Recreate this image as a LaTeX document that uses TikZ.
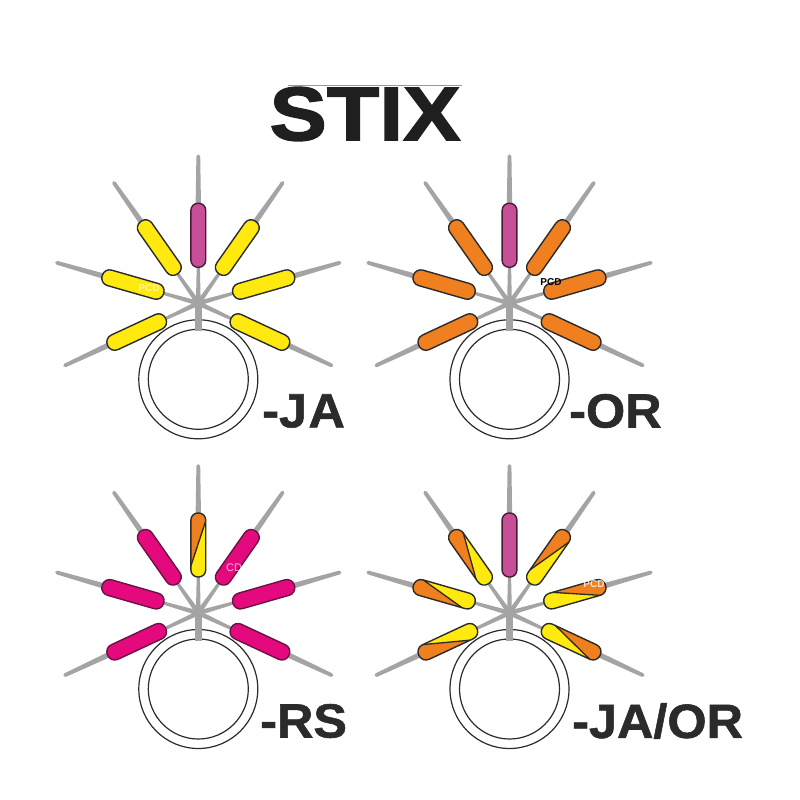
\documentclass[tikz,border=0pt]{standalone}
\usepackage{fontspec}
\setmainfont{Liberation Sans}
\newfontfamily\heavyface[BoldFeatures={FakeBold=1.2,FakeStretch=1.05}]{Liberation Sans}
\newfontfamily\titleface[BoldFeatures={FakeBold=2,FakeStretch=1.13}]{Liberation Sans}
\definecolor{spokegray}{HTML}{A4A4A4}
\definecolor{capyellow}{HTML}{FFE90F}
\definecolor{caporange}{HTML}{EF7F1F}
\definecolor{capplum}{HTML}{C64F98}
\definecolor{caprose}{HTML}{E40A7E}
\definecolor{inkdark}{HTML}{2B2B2B}
\definecolor{roseedge}{HTML}{6A1244}
\definecolor{plumedge}{HTML}{4A1A3A}
\tikzset{
  x=1pt, y=-1pt,
  ringline/.style={draw=inkdark, line width=1.2pt, fill=white},
  stemline/.style={draw=spokegray, line width=7.5pt},
  codelabel/.style={font=\heavyface\bfseries\fontsize{48}{48}\selectfont, text=inkdark, inner sep=0pt, anchor=west},
  pcdlabel/.style={font=\bfseries\fontsize{10}{10}\selectfont, inner sep=0pt},
}
% Half width of a capsule; the upright one is a little narrower
\def\hw{8}
% One spoke along +x of the rotated frame: thin inner part, tapered outer part
\newcommand{\spoke}[1]{%
  \begin{scope}[rotate=#1]
    \fill[spokegray] (0,-2.4) -- (40,-1.5) -- (40,1.5) -- (0,2.4) -- cycle;
    \fill[spokegray] (98,-2.7) -- (147,-1.9) arc[start angle=-90,end angle=90,radius=1.9]
      -- (98,2.7) -- cycle;
  \end{scope}}
% Plain capsule
\newcommand{\capsule}[3][inkdark]{%
  \begin{scope}[rotate=#2]
    \draw[draw=#1, line width=1.4pt, fill=#3, rounded corners=\hw pt-0.4pt]
      (36,-\hw) rectangle (100,\hw);
  \end{scope}}
% Two-colour capsule split by a slanted line
\newcommand{\splitcapsule}[1]{%
  \begin{scope}[rotate=#1]
    \begin{scope}
      \clip[rounded corners=\hw pt-0.4pt] (36,-\hw) rectangle (100,\hw);
      \fill[capyellow] (36,-\hw) rectangle (100,\hw);
      \fill[caporange] (100,-\hw) -- (100,\hw) -- (92,\hw) -- (47,-\hw) -- cycle;
      \draw[inkdark, line width=1.3pt] (92,\hw) -- (47,-\hw);
    \end{scope}
    \draw[inkdark, line width=1.4pt, rounded corners=\hw pt-0.4pt]
      (36,-\hw) rectangle (100,\hw);
  \end{scope}}
% Ring, spokes and stem shared by all four panels
\newcommand{\ringbase}{%
  \draw[ringline] (0,76) circle[radius=59.5];
  \draw[ringline] (0,76) circle[radius=50];
  \foreach \a in {16,55,90,125,164,205,335}{\spoke{\a}}
  \draw[stemline] (0,-3) -- (0,28);}
\begin{document}
\begin{tikzpicture}
\useasboundingbox (0,0) rectangle (800,800);
\fill[white] (0,0) rectangle (800,800);

\node[font=\titleface\bfseries\fontsize{76}{76}\selectfont, text=black!88, inner sep=0pt] (title) at (365,114) {STIX};
\coordinate (ruleL) at (288,85.5);
\coordinate (ruleR) at (462,85.5);
\draw[black!40, line width=0.8pt] (ruleL) -- (ruleR);

% -JA panel
\begin{scope}[shift={(198.3,303.3)}]
  \ringbase
  \foreach \a in {16,55,125,164,205,335}{\capsule{\a}{capyellow}}
  {\def\hw{7.4}\capsule[plumedge]{90}{capplum}}
\end{scope}
\node[pcdlabel, text=white, opacity=.6] (pcdja) at (149,288) {PCD};
\node[codelabel] (labelja) at (262,411) {-J\kern1.5ptA};

% -OR panel
\begin{scope}[shift={(509.5,303.3)}]
  \ringbase
  \foreach \a in {16,55,125,164,205,335}{\capsule{\a}{caporange}}
  {\def\hw{7.4}\capsule[plumedge]{90}{capplum}}
\end{scope}
\node[pcdlabel, text=black] (pcdor) at (551,282) {PCD};
\node[codelabel] (labelor) at (569,411) {-OR};

% -RS panel
\begin{scope}[shift={(198.3,613)}]
  \ringbase
  \foreach \a in {16,55,125,164,205,335}{\capsule[roseedge]{\a}{caprose}}
  {\def\hw{7.4}\splitcapsule{90}}
\end{scope}
\node[pcdlabel, text=white, opacity=.7, font=\fontsize{11}{11}\selectfont] (pcdrs) at (234,568) {CD};
\node[codelabel] (labelrs) at (260,721) {-RS};

% -JA/OR panel
\begin{scope}[shift={(509.5,613)}]
  \ringbase
  \foreach \a in {16,55,125,164,205,335}{\splitcapsule{\a}}
  {\def\hw{7.4}\capsule[plumedge]{90}{capplum}}
\end{scope}
\node[pcdlabel, text=white, opacity=.8] (pcdjaor) at (594,584) {PCD};
\node[codelabel] (labeljaor) at (572,721) {-JA/OR};
\end{tikzpicture}
\end{document}
